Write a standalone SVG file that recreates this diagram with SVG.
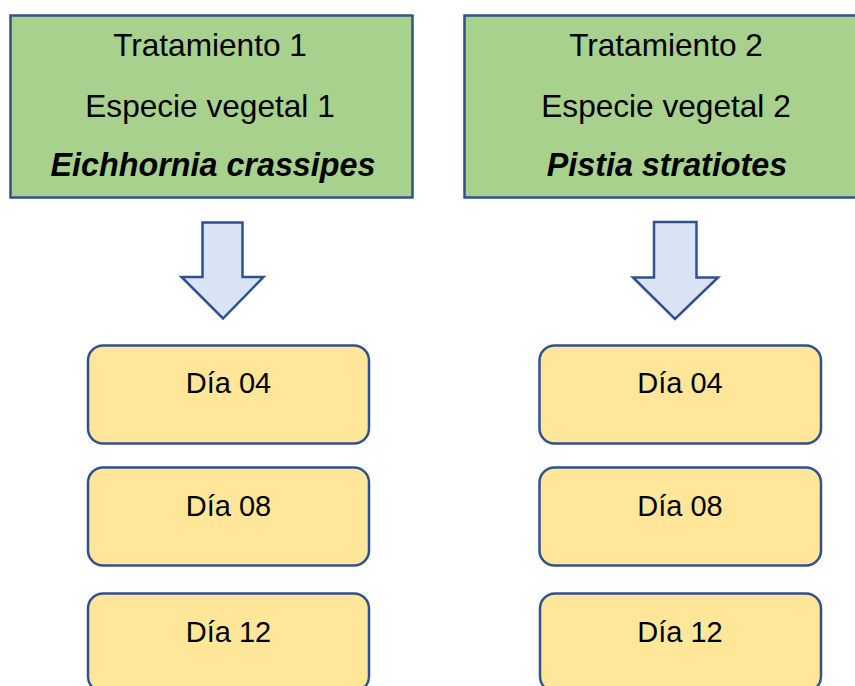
<svg xmlns="http://www.w3.org/2000/svg" width="855" height="686" viewBox="0 0 855 686">
<style>
.t{font-family:"Liberation Sans",Arial,sans-serif;fill:#000;text-anchor:middle}
.h{font-size:31.6px}
.bi{font-weight:bold;font-style:italic;font-size:32.3px}
.g{fill:#A9D18E;stroke:#2F528F;stroke-width:2.5}
.y{fill:#FFE699;stroke:#2F528F;stroke-width:2.5}
.d{font-size:29px}
.a{fill:#DAE3F3;stroke:#2F528F;stroke-width:2.5;stroke-linejoin:miter}
</style>
<rect width="855" height="686" fill="#fff"/>
<g id="t1">
<rect class="g" x="10.5" y="15.5" width="402" height="182"/>
<text class="t h" x="210" y="56">Tratamiento 1</text>
<text class="t h" x="210" y="117">Especie vegetal 1</text>
<text class="t h bi" x="213" y="176">Eichhornia crassipes</text>
</g>
<g id="t2">
<rect class="g" x="464.5" y="15.5" width="406" height="182"/>
<text class="t h" x="666" y="56">Tratamiento 2</text>
<text class="t h" x="666" y="117">Especie vegetal 2</text>
<text class="t h bi" x="667" y="176">Pistia stratiotes</text>
</g>
<g id="connectors">
<polygon class="a" points="202.5,222.5 242.5,222.5 242.5,277 263.5,277 223,318.5 181.5,277 202.5,277"/>
<polygon class="a" points="654,222 696.5,222 696.5,277.5 718,277.5 675,319 633,277.5 654,277.5"/>
</g>
<g id="l04">
<rect class="y" x="88" y="345.5" width="281" height="98" rx="15"/>
<text class="t d" x="228.5" y="393">Día 04</text>
</g>
<g id="l08">
<rect class="y" x="88" y="467.5" width="281" height="98" rx="15"/>
<text class="t d" x="228.5" y="515.5">Día 08</text>
</g>
<g id="l12">
<rect class="y" x="88" y="593.5" width="281" height="98" rx="15"/>
<text class="t d" x="228.5" y="641.5">Día 12</text>
</g>
<g id="r04">
<rect class="y" x="539.5" y="345.5" width="281.5" height="98" rx="15"/>
<text class="t d" x="680" y="393">Día 04</text>
</g>
<g id="r08">
<rect class="y" x="539.5" y="467.5" width="281.5" height="98" rx="15"/>
<text class="t d" x="680" y="515.5">Día 08</text>
</g>
<g id="r12">
<rect class="y" x="540" y="593.5" width="281" height="98" rx="15"/>
<text class="t d" x="680" y="641.5">Día 12</text>
</g>
</svg>
